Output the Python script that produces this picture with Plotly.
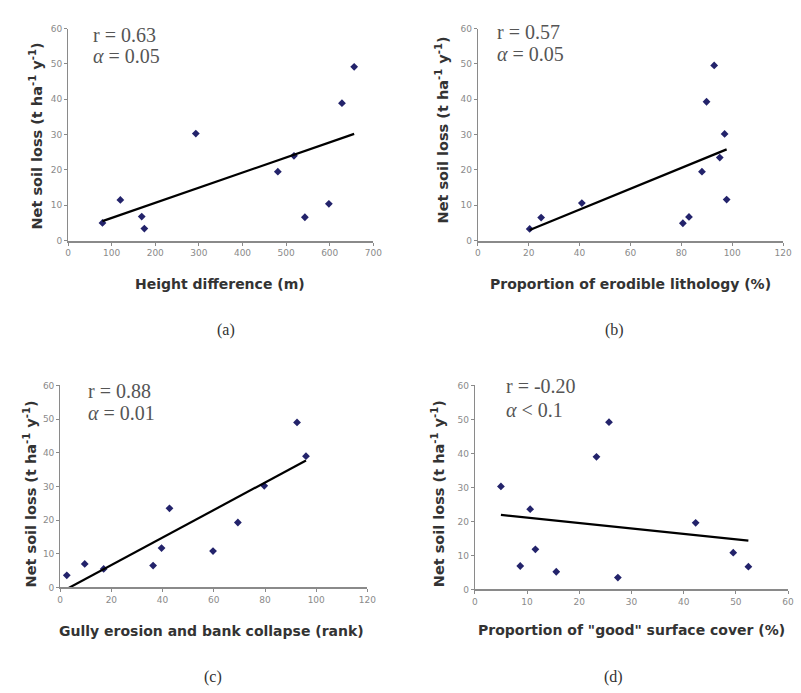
import numpy as np
import plotly.graph_objects as go

# ---- data ----
loss = [5.0, 11.5, 6.8, 3.4, 30.3, 19.5, 24.0, 6.6, 10.4, 38.9, 49.2]
height_diff = [79, 120, 169, 175, 293, 481, 518, 543, 598, 628, 656]

litho_x = [20.4, 24.9, 40.9, 80.6, 83.0, 88.1, 89.9, 92.9, 95.1, 97.0, 97.8]
litho_y = [3.3, 6.5, 10.6, 4.9, 6.7, 19.5, 39.3, 49.6, 23.5, 30.2, 11.6]

gully_x = [2.6, 9.6, 17.0, 36.3, 39.6, 42.7, 59.7, 69.4, 79.7, 92.5, 96.0]
gully_y = [3.6, 7.0, 5.5, 6.5, 11.7, 23.5, 10.8, 19.3, 30.2, 49.0, 39.0]

cover_x = [5.0, 8.7, 10.6, 11.6, 15.6, 23.3, 25.7, 27.4, 42.3, 49.5, 52.4]
cover_y = [30.3, 6.9, 23.6, 11.8, 5.2, 39.0, 49.2, 3.5, 19.6, 10.8, 6.7]

x_titles = ["Height difference (m)",
            "Proportion of erodible lithology (%)",
            "Gully erosion and bank collapse (rank)",
            "Proportion of \"good\" surface cover (%)"]
r_texts = ["r = 0.63", "r = 0.57", "r = 0.88", "r = -0.20"]
alpha_texts = [" = 0.05", " = 0.05", " = 0.01", " < 0.1"]
panel_labels = ["(a)", "(b)", "(c)", "(d)"]
x_ranges = [[0, 700], [0, 120], [0, 120], [0, 60]]
x_dticks = [100, 20, 20, 10]

series = [(height_diff, loss), (litho_x, litho_y), (gully_x, gully_y), (cover_x, cover_y)]

# ---- layout (pixels) ----
W, H = 801, 693
boxes = [(66, 376, 24, 239), (482, 792, 24, 239), (58, 370, 386, 591), (479, 797, 386, 593)]
xtitle_pos = [(220, 283), (637, 283), (212, 635), (638, 634)]
ytitle_pos = [(34, 133), (446, 127), (27, 496), (441, 496)]
stat_pos = [(89, 30, 52), (499, 27, 50), (84, 392, 414), (509, 387, 411)]
label_pos = [(226, 330), (621, 330), (213, 682), (620, 682)]

MARK = "#23236b"
AX = "#8a8a8a"
TICKF = dict(family="DejaVu Sans", size=9, color="#8a8a8a")
XTF = dict(family="DejaVu Sans", size=14, color="#333333")
YTF = dict(family="DejaVu Sans", size=14.5, color="#333333")
SERIF = dict(family="Liberation Serif", size=20, color="#555555")


def px(x, y):
    return x / W, 1 - y / H


fig = go.Figure()
for i, ((xs, ys), (l, r, t, b)) in enumerate(zip(series, boxes)):
    n = i + 1
    xa = "x" if n == 1 else f"x{n}"
    ya = "y" if n == 1 else f"y{n}"
    fig.add_trace(go.Scatter(x=xs, y=ys, mode="markers", xaxis=xa, yaxis=ya,
                             marker=dict(symbol="diamond", size=6, color=MARK),
                             showlegend=False))
    k, c = np.polyfit(xs, ys, 1)
    xl = np.array([min(xs), max(xs)])
    fig.add_trace(go.Scatter(x=xl, y=k * xl + c, mode="lines", xaxis=xa, yaxis=ya,
                             line=dict(color="black", width=2.2), showlegend=False))
    axcommon = dict(showgrid=False, zeroline=False, showline=True, linecolor=AX,
                    ticks="outside", ticklen=3, tickcolor=AX, tickfont=TICKF)
    fig.layout[f"xaxis{'' if n == 1 else n}"] = dict(
        domain=[l / W, r / W], range=x_ranges[i], dtick=x_dticks[i], tick0=0,
        anchor=ya, linewidth=2, **axcommon)
    fig.layout[f"yaxis{'' if n == 1 else n}"] = dict(
        domain=[1 - b / H, 1 - t / H], range=[0, 60], dtick=10, tick0=0,
        anchor=xa, linewidth=1, **axcommon)

    ax_, ay_ = px(*xtitle_pos[i])
    fig.add_annotation(x=ax_, y=ay_, xref="paper", yref="paper", showarrow=False,
                       text=f"<b>{x_titles[i]}</b>", font=XTF,
                       xanchor="center", yanchor="middle")
    ax_, ay_ = px(*ytitle_pos[i])
    fig.add_annotation(x=ax_, y=ay_, xref="paper", yref="paper", showarrow=False,
                       textangle=-90,
                       text="<b>Net soil loss (t ha<sup>-1</sup> y<sup>-1</sup>)</b>",
                       font=YTF, xanchor="center", yanchor="middle")
    sx, sy1, sy2 = stat_pos[i]
    fig.add_annotation(x=sx / W, y=1 - sy1 / H, xref="paper", yref="paper",
                       showarrow=False, text=r_texts[i], font=SERIF,
                       xanchor="left", yanchor="middle")
    fig.add_annotation(x=sx / W, y=1 - sy2 / H, xref="paper", yref="paper",
                       showarrow=False, text="<i>α</i>" + alpha_texts[i], font=SERIF,
                       xanchor="left", yanchor="middle")
    ax_, ay_ = px(*label_pos[i])
    fig.add_annotation(x=ax_, y=ay_, xref="paper", yref="paper", showarrow=False,
                       text=panel_labels[i],
                       font=dict(family="Liberation Serif", size=16, color="#333333"),
                       xanchor="center", yanchor="middle")

fig.update_layout(width=W, height=H, margin=dict(l=0, r=0, t=0, b=0),
                  paper_bgcolor="white", plot_bgcolor="white")
fig.write_html("out.html", config={"displayModeBar": False},
               post_script="document.body.style.margin='0';document.body.style.overflow='hidden';")
